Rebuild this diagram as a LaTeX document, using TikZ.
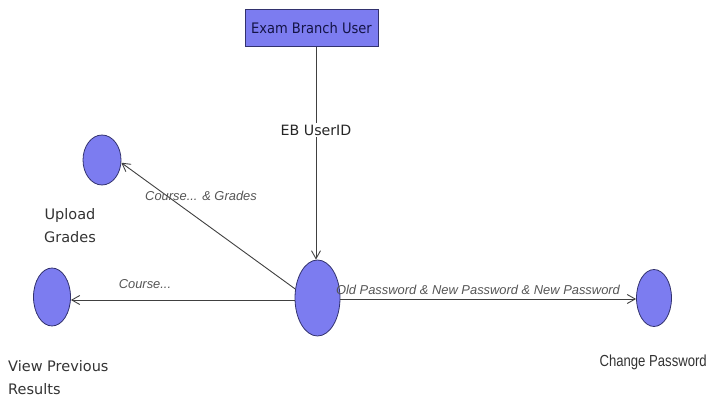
\documentclass[tikz,border=0pt]{standalone}
\usepackage{graphicx}
\usepackage{fontspec}
\setmainfont{DejaVu Sans}
\newfontfamily\arialf{Liberation Sans}
\newfontfamily\condf{DejaVu Sans Condensed}
\usetikzlibrary{arrows.meta,shapes.geometric}
\definecolor{nodefill}{RGB}{124,124,240}
\definecolor{nodeline}{RGB}{50,50,110}
\definecolor{boxtext}{RGB}{20,20,70}
\definecolor{lbl}{RGB}{85,85,85}
\tikzset{
  x=1pt,y=-1pt,
  ucnode/.style={draw=nodeline,fill=nodefill,line width=0.8pt,ellipse,inner sep=0pt},
  actorbox/.style={draw=nodeline,fill=nodefill,line width=0.8pt,minimum width=133pt,minimum height=37pt,inner sep=0pt,text=boxtext,font=\condf\fontsize{14.5}{16}\selectfont},
  conn/.style={draw=black!75,line width=0.9pt,-{Straight Barb[length=8pt,width=9pt,line width=0.9pt]}},
  msg/.style={text=lbl,font=\arialf\itshape\fontsize{12.9}{15}\selectfont,inner sep=1pt},
  caption/.style={text=black!80,font=\fontsize{14.5}{23}\selectfont,inner sep=0pt}
}
\begin{document}
\begin{tikzpicture}
\useasboundingbox (0,0) rectangle (707,404);
\node[actorbox] (actor) at (311.5,28) {Exam Branch User};
\node[ucnode,minimum width=45pt,minimum height=76pt] (center) at (317.5,298) {};
\node[ucnode,minimum width=38pt,minimum height=50pt] (upload) at (102,160) {};
\node[ucnode,minimum width=37pt,minimum height=58pt] (view) at (52,297) {};
\node[ucnode,minimum width=35pt,minimum height=57pt] (change) at (654,298) {};
\draw[conn] (actor.south -| 316,0) -- (center.north -| 316,0);
\node[fill=white,text=black!85,font=\fontsize{14.2}{16}\selectfont,inner sep=2pt] (ebid) at (316,130) {EB UserID};
\draw[conn] (center.158) -- (upload.-8);
\draw[conn] (center.west |- 0,300) -- (view.east |- 0,300);
\draw[conn] (center.east |- 0,299) -- (change.west |- 0,299);
\node[msg] (lab1) at (201,196) {Course... \& Grades};
\node[msg] (lab2) at (145,284) {Course...};
\node[msg] (lab3) at (478,290) {Old Password \& New Password \& New Password};
\node[caption,align=center] (uploadlbl) at (70,226) {Upload\\Grades};
\node[caption,align=left,anchor=west] (viewlbl) at (8,378) {View Previous\\Results};
\node[text=black!80,font=\arialf\fontsize{16}{18}\selectfont,anchor=east,inner sep=0pt] (changelbl) at (707,362) {\scalebox{0.82}[1]{Change Password}};
\end{tikzpicture}
\end{document}
